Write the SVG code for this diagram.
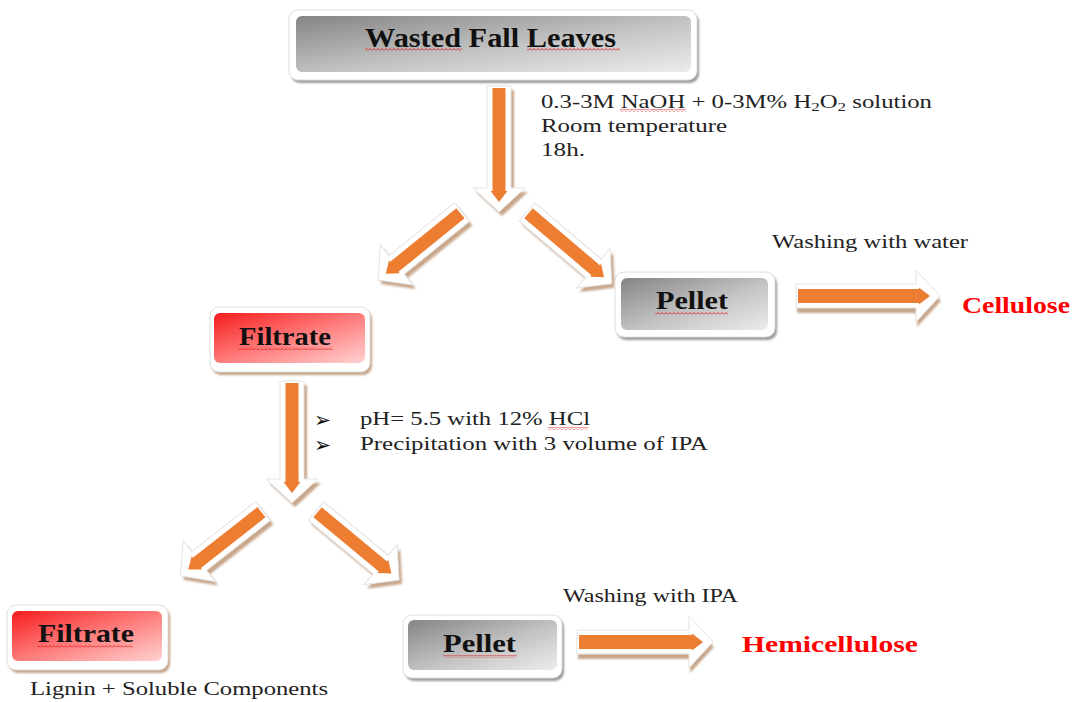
<svg xmlns="http://www.w3.org/2000/svg" width="1078" height="702" viewBox="0 0 1078 702">
<style>
.sh{fill:#C8A68A;filter:url(#blur)}
.ow{fill:#fff;stroke:#e4e4e4;stroke-width:1}
.or{fill:#ED7D31}
.frame{fill:#fff;stroke:#dedede;stroke-width:1}
.fsg{fill:#9a9a9a;filter:url(#blur)}
.fsr{fill:#C4A286;filter:url(#blur)}
.lbl{font-family:"Liberation Serif",serif;font-weight:bold;font-size:25px;fill:#111}
.red{font-family:"Liberation Serif",serif;font-weight:bold;font-size:24px;fill:#FF0000}
.txt{font-family:"Liberation Serif",serif;font-size:19px;fill:#222}
.bul{font-family:"DejaVu Sans",sans-serif;font-size:21px;fill:#111}
.sq{fill:url(#wave)}
</style>
<defs>
<filter id="blur" x="-10%" y="-10%" width="120%" height="130%"><feGaussianBlur stdDeviation="1.2"/></filter>
<linearGradient id="grey" x1="0" y1="0" x2="1" y2="1">
<stop offset="0" stop-color="#858585"/><stop offset="0.55" stop-color="#c4c4c4"/><stop offset="1" stop-color="#ececec"/>
</linearGradient>
<linearGradient id="redg" x1="0" y1="0" x2="1" y2="1">
<stop offset="0" stop-color="#F51C1C"/><stop offset="0.5" stop-color="#FF7A7A"/><stop offset="1" stop-color="#FFD2D2"/>
</linearGradient>
<pattern id="wave" patternUnits="userSpaceOnUse" width="4" height="3">
<path d="M0,2.5 L2,0.5 L4,2.5" fill="none" stroke="#E02020" stroke-width="0.9"/>
</pattern>
</defs>
<rect width="1078" height="702" fill="#fff"/>

<g id="connectors">
<!-- A -->
<g transform="translate(502,90) rotate(90)"><path class="sh" d="M0,-12 H102 V-26 L126,0 L102,26 V12 H0 Z"/></g>
<g transform="translate(499,86) rotate(90)"><path class="ow" d="M0,-12 H102 V-26 L126,0 L102,26 V12 H0 Z"/><path class="or" d="M2,-6.5 H105 V-8.5 L116,0 L105,8.5 V6.5 H2 Z"/></g>
<!-- B -->
<g transform="translate(465,216) rotate(141)"><path class="sh" d="M0,-12 H84 V-26 L108,0 L84,26 V12 H0 Z"/></g>
<g transform="translate(462,212) rotate(141)"><path class="ow" d="M0,-12 H84 V-26 L108,0 L84,26 V12 H0 Z"/><path class="or" d="M2,-6.5 H87 V-8.5 L98,0 L87,8.5 V6.5 H2 Z"/></g>
<!-- C -->
<g transform="translate(530,216) rotate(40.3)"><path class="sh" d="M0,-12 H87 V-26 L111,0 L87,26 V12 H0 Z"/></g>
<g transform="translate(527,212) rotate(40.3)"><path class="ow" d="M0,-12 H87 V-26 L111,0 L87,26 V12 H0 Z"/><path class="or" d="M2,-6.5 H90 V-8.5 L101,0 L90,8.5 V6.5 H2 Z"/></g>
<!-- F -->
<g transform="translate(295,385) rotate(90)"><path class="sh" d="M0,-12 H98 V-26 L122,0 L98,26 V12 H0 Z"/></g>
<g transform="translate(292,381) rotate(90)"><path class="ow" d="M0,-12 H98 V-26 L122,0 L98,26 V12 H0 Z"/><path class="or" d="M2,-6.5 H101 V-8.5 L112,0 L101,8.5 V6.5 H2 Z"/></g>
<!-- D -->
<g transform="translate(266,515) rotate(141.9)"><path class="sh" d="M0,-12 H81 V-26 L105,0 L81,26 V12 H0 Z"/></g>
<g transform="translate(263,511) rotate(141.9)"><path class="ow" d="M0,-12 H81 V-26 L105,0 L81,26 V12 H0 Z"/><path class="or" d="M2,-6.5 H84 V-8.5 L95,0 L84,8.5 V6.5 H2 Z"/></g>
<!-- E -->
<g transform="translate(319,515) rotate(39.7)"><path class="sh" d="M0,-12 H84 V-26 L108,0 L84,26 V12 H0 Z"/></g>
<g transform="translate(316,511) rotate(39.7)"><path class="ow" d="M0,-12 H84 V-26 L108,0 L84,26 V12 H0 Z"/><path class="or" d="M2,-6.5 H87 V-8.5 L98,0 L87,8.5 V6.5 H2 Z"/></g>
<!-- G -->
<g transform="translate(797,301)"><path class="sh" d="M0,-12 H120 V-26 L144,0 L120,26 V12 H0 Z"/></g>
<g transform="translate(796,296)"><path class="ow" d="M0,-12 H120 V-26 L144,0 L120,26 V12 H0 Z"/><path class="or" d="M2,-7 H123 V-8.5 L134,0 L123,8.5 V7 H2 Z"/></g>
<!-- H -->
<g transform="translate(578,647)"><path class="sh" d="M0,-12 H112 V-26 L136,0 L112,26 V12 H0 Z"/></g>
<g transform="translate(577,642)"><path class="ow" d="M0,-12 H112 V-26 L136,0 L112,26 V12 H0 Z"/><path class="or" d="M2,-7 H115 V-8.5 L126,0 L115,8.5 V7 H2 Z"/></g>
</g>

<g id="node-leaves">
<rect class="fsg" x="291" y="13" width="408" height="70" rx="9"/>
<rect class="frame" x="289" y="10" width="408" height="70" rx="9"/>
<rect x="296" y="16" width="395" height="56" rx="6" fill="url(#grey)"/>
<text class="lbl" x="365" y="47" style="font-size:27px" textLength="251" lengthAdjust="spacingAndGlyphs">Wasted Fall  Leaves</text>
<rect class="sq" x="365" y="48" width="97" height="3"/>
<rect class="sq" x="527" y="48" width="93" height="3"/>
</g>

<g id="text-conditions1">
<text class="txt" x="541" y="108" textLength="391" lengthAdjust="spacingAndGlyphs">0.3-3M NaOH + 0-3M% H<tspan style="font-size:13px" dy="3">2</tspan><tspan dy="-3">O</tspan><tspan style="font-size:13px" dy="3">2</tspan><tspan dy="-3"> solution</tspan></text>
<rect class="sq" x="620" y="109" width="66" height="3"/>
<text class="txt" x="541" y="132" textLength="186" lengthAdjust="spacingAndGlyphs">Room temperature</text>
<text class="txt" x="541" y="156" textLength="44" lengthAdjust="spacingAndGlyphs">18h.</text>
</g>

<g id="node-pellet1">
<rect class="fsg" x="617" y="275" width="160" height="65" rx="9"/>
<rect class="frame" x="615" y="272" width="160" height="65" rx="9"/>
<rect x="621" y="278" width="147" height="52" rx="6" fill="url(#grey)"/>
<text class="lbl" x="656" y="309" textLength="72" lengthAdjust="spacingAndGlyphs">Pellet</text>
<rect class="sq" x="655" y="312" width="73" height="3"/>
</g>

<text class="txt" x="772" y="248" textLength="196" lengthAdjust="spacingAndGlyphs">Washing with water</text>
<g id="node-cellulose">
<text class="red" x="962" y="313" style="font-size:23px" textLength="108" lengthAdjust="spacingAndGlyphs">Cellulose</text>
</g>

<g id="node-filtrate1">
<rect class="fsr" x="212" y="310" width="160" height="65" rx="9"/>
<rect class="frame" x="210" y="307" width="160" height="65" rx="9"/>
<rect x="214" y="313" width="151" height="50" rx="6" fill="url(#redg)"/>
<text class="lbl" x="239" y="345" textLength="92" lengthAdjust="spacingAndGlyphs">Filtrate</text>
<rect class="sq" x="238" y="347" width="95" height="3"/>
</g>

<g id="text-conditions2">
<text class="bul" x="314" y="427" textLength="17" lengthAdjust="spacingAndGlyphs">➢</text>
<text class="txt" x="360" y="425" textLength="230" lengthAdjust="spacingAndGlyphs">pH= 5.5 with 12% HCl</text>
<rect class="sq" x="548" y="427" width="40" height="3"/>
<text class="bul" x="314" y="452" textLength="17" lengthAdjust="spacingAndGlyphs">➢</text>
<text class="txt" x="360" y="450" textLength="348" lengthAdjust="spacingAndGlyphs">Precipitation with 3 volume of IPA</text>
</g>

<g id="node-filtrate2">
<rect class="fsr" x="9" y="608" width="161" height="65" rx="9"/>
<rect class="frame" x="7" y="605" width="161" height="65" rx="9"/>
<rect x="12" y="611" width="150" height="50" rx="6" fill="url(#redg)"/>
<text class="lbl" x="38" y="642" textLength="96" lengthAdjust="spacingAndGlyphs">Filtrate</text>
<rect class="sq" x="37" y="645" width="96" height="3"/>
</g>
<text class="txt" x="30" y="695" textLength="298" lengthAdjust="spacingAndGlyphs">Lignin + Soluble Components</text>

<g id="node-pellet2">
<rect class="fsg" x="405" y="618" width="159" height="63" rx="9"/>
<rect class="frame" x="403" y="615" width="159" height="63" rx="9"/>
<rect x="408" y="620" width="149" height="50" rx="6" fill="url(#grey)"/>
<text class="lbl" x="443" y="652" textLength="73" lengthAdjust="spacingAndGlyphs">Pellet</text>
<rect class="sq" x="443" y="655" width="74" height="3"/>
</g>

<text class="txt" x="563" y="602" textLength="175" lengthAdjust="spacingAndGlyphs">Washing with IPA</text>
<g id="node-hemicellulose">
<text class="red" x="742" y="652" textLength="176" lengthAdjust="spacingAndGlyphs">Hemicellulose</text>
</g>
</svg>
